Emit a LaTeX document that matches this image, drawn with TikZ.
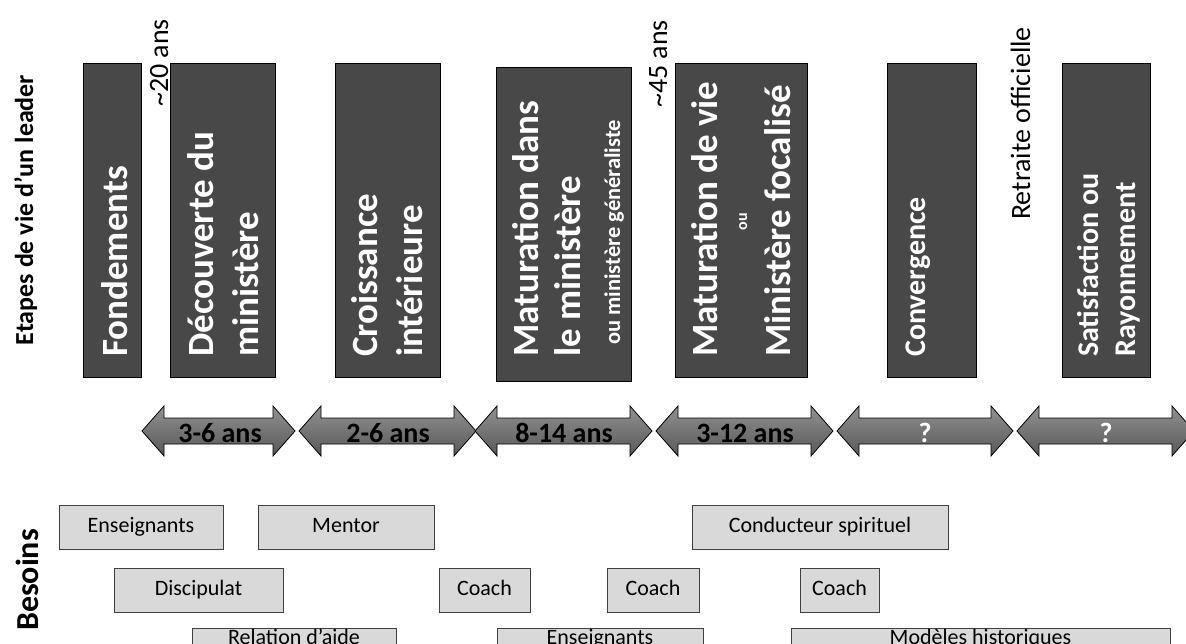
\documentclass[tikz,border=0pt]{standalone}
\usepackage{fontspec}
\setmainfont{Carlito}
\definecolor{stagegray}{RGB}{72,72,72}
\definecolor{needgray}{RGB}{217,217,217}
\definecolor{needline}{RGB}{64,64,64}
\definecolor{arrtop}{RGB}{145,145,145}
\definecolor{arrbot}{RGB}{88,88,88}
\begin{document}
\begin{tikzpicture}[x=1pt,y=-1pt,
  stage/.style={draw=black, line width=0.8pt, fill=stagegray, minimum width=#1, minimum height=314pt, inner sep=0pt},
  bigline/.style={rotate=90, anchor=base west, inner sep=0pt, text=white, font=\fontsize{37}{44}\selectfont\bfseries},
  midline/.style={rotate=90, anchor=base west, inner sep=0pt, text=white, font=\fontsize{30}{36}\selectfont\bfseries},
  smallline/.style={rotate=90, anchor=base west, inner sep=0pt, text=white, font=\fontsize{22.5}{27}\selectfont\bfseries},
  tinyline/.style={rotate=90, anchor=base, inner sep=0pt, text=white, font=\fontsize{16}{19}\selectfont\bfseries},
  agelabel/.style={rotate=90, anchor=base west, inner sep=0pt, text=black, font=\fontsize{28}{34}\selectfont},
  sidelabel/.style={rotate=90, anchor=base, inner sep=0pt, text=black, font=\fontsize{#1}{31}\selectfont\bfseries},
  arrowshape/.style={draw=black, line width=0.8pt, top color=arrtop, bottom color=arrbot},
  arrlabel/.style={inner sep=0pt, text=black, font=\fontsize{28}{33}\selectfont\bfseries},
  qlabel/.style={inner sep=0pt, text=white, font=\fontsize{28}{33}\selectfont\bfseries},
  need/.style={draw=needline, line width=0.8pt, fill=needgray, minimum width=#1, minimum height=44pt, inner sep=0pt, text height=15pt, text depth=5pt, font=\fontsize{22}{26}\selectfont},
  needbox/.style={draw=needline, line width=0.8pt, fill=needgray, minimum width=#1, minimum height=44pt, inner sep=0pt},
  needtext/.style={anchor=base, inner sep=0pt, font=\fontsize{22}{26}\selectfont}
]
\useasboundingbox (0,0) rectangle (1186,644);
\clip (0,0) rectangle (1186,644);

% side labels
\node[sidelabel=26] (etapes) at (33,210) {Etapes de vie d’un leader};
\node[sidelabel=32] (besoins) at (38,580) {Besoins};

% age labels
\node[agelabel] (age20) at (168,107) {\textasciitilde20 ans};
\node[agelabel] (age45) at (667,108) {\textasciitilde45 ans};
\node[agelabel] (retraite) at (1030,220) {Retraite officielle};

% stage boxes
\node[stage=58pt] (s1) at (112,220) {};
\node[stage=105pt] (s2) at (222.5,220) {};
\node[stage=105pt] (s3) at (387.5,220) {};
\node[stage=135pt] (s4) at (563.5,224) {};
\node[stage=132pt] (s5) at (741,220) {};
\node[stage=89pt] (s6) at (931.5,220) {};
\node[stage=88pt] (s7) at (1106,220) {};

% stage texts
\node[bigline] (t1) at (127,357) {Fondements};
\node[bigline] (t2a) at (213,357) {Découverte du};
\node[bigline] (t2b) at (258,357) {ministère};
\node[bigline] (t3a) at (377,357) {Croissance};
\node[bigline] (t3b) at (422,357) {intérieure};
\node[bigline] (t4a) at (538,357) {Maturation dans};
\node[bigline] (t4b) at (580,357) {le ministère};
\node[smallline] (t4c) at (620,345) {ou ministère généraliste};
\node[bigline] (t5a) at (717,357) {Maturation de vie};
\node[tinyline] (t5b) at (747,222) {ou};
\node[bigline] (t5c) at (790,357) {Ministère focalisé};
\node[midline] (t6) at (925,357) {Convergence};
\node[midline] (t7a) at (1098,357) {Satisfaction ou};
\node[midline] (t7b) at (1135,357) {Rayonnement};

% duration arrows
\newcommand{\durarrow}[2]{%
  \path[arrowshape] (#1,431) -- (#1+22,406) -- (#1+22,418) -- (#2-22,418) -- (#2-22,406) -- (#2,431) -- (#2-22,456) -- (#2-22,444) -- (#1+22,444) -- (#1+22,456) -- cycle;}
\durarrow{142}{295}
\durarrow{299}{476}
\durarrow{475}{652}
\durarrow{656}{833}
\durarrow{837}{1013}
\durarrow{1017}{1194}
\node[arrlabel] (d1) at (220,433) {3-6 ans};
\node[arrlabel] (d2) at (388,433) {2-6 ans};
\node[arrlabel] (d3) at (564,433) {8-14 ans};
\node[arrlabel] (d4) at (745,433) {3-12 ans};
\node[qlabel] (d5) at (925,433) {?};
\node[qlabel] (d6) at (1106,433) {?};

% needs
\node[need=164pt] (n1) at (141,527) {Enseignants};
\node[need=176pt] (n2) at (346,527) {Mentor};
\node[need=256pt] (n3) at (820,527) {Conducteur spirituel};
\node[need=169pt] (n4) at (198.5,590) {Discipulat};
\node[need=91pt] (n5) at (484.5,590) {Coach};
\node[need=92pt] (n6) at (653,590) {Coach};
\node[need=79pt] (n7) at (839.5,590) {Coach};
\node[needbox=204pt] (n8) at (294,650) {};
\node[needbox=206pt] (n9) at (600,650) {};
\node[needbox=379pt] (n10) at (980.5,650) {};
\node[needtext] (n8t) at (294,644.5) {Relation d’aide};
\node[needtext] (n9t) at (600,644.5) {Enseignants};
\node[needtext] (n10t) at (980.5,644.5) {Modèles historiques};
\end{tikzpicture}
\end{document}
